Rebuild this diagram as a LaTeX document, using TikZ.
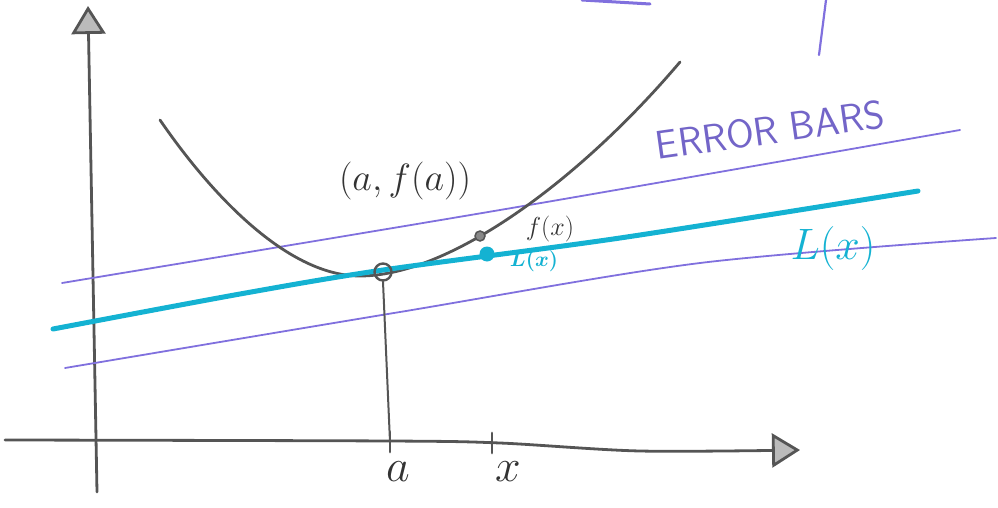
\RequirePackage{fix-cm}
\documentclass[tikz,border=0pt]{standalone}
\usepackage{tikz}
\usetikzlibrary{arrows.meta}

\definecolor{pencil}{RGB}{85,85,85}
\definecolor{tangent}{RGB}{20,178,210}
\definecolor{errpurple}{RGB}{128,112,222}
\newcommand{\fsz}[1]{\fontsize{#1}{#1}\selectfont}

\begin{document}
\begin{tikzpicture}[x=1pt,y=-1pt,
    axis/.style = {draw=pencil, line width=2.8pt, line cap=round},
    curve/.style = {draw=pencil, line width=2.8pt, line cap=round},
    tline/.style = {draw=tangent, line width=5pt, line cap=round},
    errbar/.style = {draw=errpurple, line width=1.8pt, line cap=round},
    tip/.style = {-{Triangle[length=28pt,width=34pt,fill=pencil!40]}},
    opendot/.style = {circle, draw=pencil, line width=2.4pt, minimum size=17pt, inner sep=0pt},
    greydot/.style = {circle, draw=pencil, fill=pencil!70, line width=1.5pt, minimum size=10pt, inner sep=0pt},
    cyandot/.style = {circle, fill=tangent, minimum size=15pt, inner sep=0pt},
    every node/.style = {text=pencil!60!black}]
  \useasboundingbox (0,0) rectangle (998,508);

  % axes
  \coordinate (ybot) at (97,492);
  \coordinate (ytop) at (88,6);
  \draw[axis, tip] (ybot) -- (ytop);
  \draw[axis, tip] plot[smooth] coordinates {(5,440) (390,441) (500,443) (640,451) (800,450)};

  % ticks
  \coordinate (ta) at (390,442);
  \coordinate (tx) at (492,443);
  \draw[axis] ([yshift=-10pt]ta) -- ([yshift=10pt]ta);
  \draw[axis] ([yshift=-10pt]tx) -- ([yshift=10pt]tx);

  % error bars
  \draw[errbar] plot[smooth] coordinates {(62,283) (500,210) (960,130)};
  \draw[errbar] plot[smooth] coordinates {(65,368) (400,312) (700,263) (996,238)};

  % f
  \draw[curve] (160,120) .. controls (215,200) and (290,276) .. (360,276)
                         .. controls (450,276) and (580,180) .. (680,62);

  % L
  \draw[tline] plot[smooth] coordinates {(53,329) (240,294) (383,270) (620,238) (918,191)};

  % points
  \node[opendot] (pa) at (383,272) {};
  \node[greydot] (fx) at (480,236) {};
  \node[cyandot] (lx) at (487,254) {};
  \draw[axis, line width=2pt] (pa.south) -- (ta);

  % labels
  \node[font=\fsz{38}] (lblpa) at (405,181) {$(a,f(a))$};
  \node[font=\fsz{26}] (lblfx) at (550,229) {$f(x)$};
  \node[font=\fsz{21}\boldmath, text=tangent] (lbllx) at (534,261) {$L(x)$};
  \node[font=\fsz{44}, text=tangent] (lblL) at (833,248) {$L(x)$};
  \node[font=\fsz{40}\sffamily, text=errpurple!90!black, rotate=8] (lblerr) at (770,130) {ERROR BARS};
  \node[font=\fsz{46}] (lbla) at (398,472) {$a$};
  \node[font=\fsz{46}] (lblx) at (508,472) {$x$};

  % stray strokes
  \coordinate (s1) at (582,0);
  \coordinate (s2) at (650,4);
  \coordinate (s3) at (826,0);
  \coordinate (s4) at (819,55);
  \draw[errbar, line width=3pt] (s1) -- (s2);
  \draw[errbar, line width=2.2pt] (s3) -- (s4);
\end{tikzpicture}
\end{document}
